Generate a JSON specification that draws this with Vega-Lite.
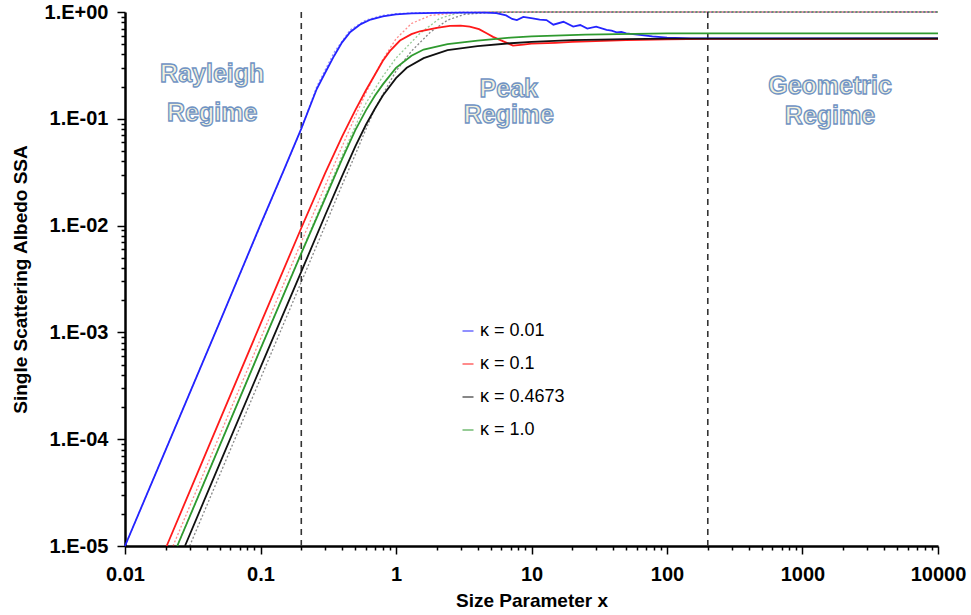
{
  "$schema": "https://vega.github.io/schema/vega-lite/v6.json",
  "width": 813,
  "height": 534,
  "autosize": {"type": "none"},
  "padding": {"left": 125, "top": 12, "right": 33, "bottom": 69},
  "background": "white",
  "config": {
    "view": {"stroke": null},
    "font": "Liberation Sans",
    "axis": {"grid": false}
  },
  "datasets": {
    "mie": [
      {"x": 0.01, "y": 0.00001, "k": "κ = 0.01"},
      {"x": 0.02, "y": 0.00008, "k": "κ = 0.01"},
      {"x": 0.05, "y": 0.00125, "k": "κ = 0.01"},
      {"x": 0.1, "y": 0.0102, "k": "κ = 0.01"},
      {"x": 0.15, "y": 0.034, "k": "κ = 0.01"},
      {"x": 0.2, "y": 0.081, "k": "κ = 0.01"},
      {"x": 0.26, "y": 0.19, "k": "κ = 0.01"},
      {"x": 0.3, "y": 0.27, "k": "κ = 0.01"},
      {"x": 0.35, "y": 0.39, "k": "κ = 0.01"},
      {"x": 0.4, "y": 0.52, "k": "κ = 0.01"},
      {"x": 0.46, "y": 0.65, "k": "κ = 0.01"},
      {"x": 0.55, "y": 0.77, "k": "κ = 0.01"},
      {"x": 0.65, "y": 0.85, "k": "κ = 0.01"},
      {"x": 0.8, "y": 0.91, "k": "κ = 0.01"},
      {"x": 1.0, "y": 0.95, "k": "κ = 0.01"},
      {"x": 1.3, "y": 0.97, "k": "κ = 0.01"},
      {"x": 2, "y": 0.98, "k": "κ = 0.01"},
      {"x": 3, "y": 0.985, "k": "κ = 0.01"},
      {"x": 4.5, "y": 0.985, "k": "κ = 0.01"},
      {"x": 5.5, "y": 0.975, "k": "κ = 0.01"},
      {"x": 6.5, "y": 0.93, "k": "κ = 0.01"},
      {"x": 7.2, "y": 0.86, "k": "κ = 0.01"},
      {"x": 7.8, "y": 0.84, "k": "κ = 0.01"},
      {"x": 8.7, "y": 0.9, "k": "κ = 0.01"},
      {"x": 10.2, "y": 0.87, "k": "κ = 0.01"},
      {"x": 11.5, "y": 0.85, "k": "κ = 0.01"},
      {"x": 12.9, "y": 0.84, "k": "κ = 0.01"},
      {"x": 14.5, "y": 0.76, "k": "κ = 0.01"},
      {"x": 17.2, "y": 0.81, "k": "κ = 0.01"},
      {"x": 20.3, "y": 0.73, "k": "κ = 0.01"},
      {"x": 22.9, "y": 0.755, "k": "κ = 0.01"},
      {"x": 25.8, "y": 0.7, "k": "κ = 0.01"},
      {"x": 30, "y": 0.73, "k": "κ = 0.01"},
      {"x": 35.8, "y": 0.68, "k": "κ = 0.01"},
      {"x": 39, "y": 0.67, "k": "κ = 0.01"},
      {"x": 42.5, "y": 0.645, "k": "κ = 0.01"},
      {"x": 46, "y": 0.65, "k": "κ = 0.01"},
      {"x": 50, "y": 0.63, "k": "κ = 0.01"},
      {"x": 63, "y": 0.61, "k": "κ = 0.01"},
      {"x": 78, "y": 0.59, "k": "κ = 0.01"},
      {"x": 100, "y": 0.575, "k": "κ = 0.01"},
      {"x": 150, "y": 0.567, "k": "κ = 0.01"},
      {"x": 200, "y": 0.565, "k": "κ = 0.01"},
      {"x": 10000, "y": 0.565, "k": "κ = 0.01"},

      {"x": 0.0203, "y": 0.00001, "k": "κ = 0.1"},
      {"x": 0.05, "y": 0.00015, "k": "κ = 0.1"},
      {"x": 0.1, "y": 0.0012, "k": "κ = 0.1"},
      {"x": 0.2, "y": 0.0095, "k": "κ = 0.1"},
      {"x": 0.3, "y": 0.031, "k": "κ = 0.1"},
      {"x": 0.4, "y": 0.068, "k": "κ = 0.1"},
      {"x": 0.5, "y": 0.12, "k": "κ = 0.1"},
      {"x": 0.6, "y": 0.185, "k": "κ = 0.1"},
      {"x": 0.7, "y": 0.26, "k": "κ = 0.1"},
      {"x": 0.8, "y": 0.35, "k": "κ = 0.1"},
      {"x": 0.9, "y": 0.43, "k": "κ = 0.1"},
      {"x": 1.07, "y": 0.54, "k": "κ = 0.1"},
      {"x": 1.3, "y": 0.62, "k": "κ = 0.1"},
      {"x": 1.5, "y": 0.66, "k": "κ = 0.1"},
      {"x": 2, "y": 0.71, "k": "κ = 0.1"},
      {"x": 2.5, "y": 0.74, "k": "κ = 0.1"},
      {"x": 3, "y": 0.745, "k": "κ = 0.1"},
      {"x": 3.5, "y": 0.73, "k": "κ = 0.1"},
      {"x": 4.1, "y": 0.69, "k": "κ = 0.1"},
      {"x": 4.7, "y": 0.63, "k": "κ = 0.1"},
      {"x": 5.2, "y": 0.585, "k": "κ = 0.1"},
      {"x": 6.2, "y": 0.53, "k": "κ = 0.1"},
      {"x": 7.3, "y": 0.485, "k": "κ = 0.1"},
      {"x": 8.7, "y": 0.495, "k": "κ = 0.1"},
      {"x": 10, "y": 0.505, "k": "κ = 0.1"},
      {"x": 15, "y": 0.515, "k": "κ = 0.1"},
      {"x": 20, "y": 0.525, "k": "κ = 0.1"},
      {"x": 50, "y": 0.545, "k": "κ = 0.1"},
      {"x": 100, "y": 0.556, "k": "κ = 0.1"},
      {"x": 200, "y": 0.56, "k": "κ = 0.1"},
      {"x": 10000, "y": 0.56, "k": "κ = 0.1"},

      {"x": 0.0277, "y": 0.00001, "k": "κ = 0.4673"},
      {"x": 0.05, "y": 0.000059, "k": "κ = 0.4673"},
      {"x": 0.1, "y": 0.00047, "k": "κ = 0.4673"},
      {"x": 0.2, "y": 0.0037, "k": "κ = 0.4673"},
      {"x": 0.3, "y": 0.0125, "k": "κ = 0.4673"},
      {"x": 0.4, "y": 0.029, "k": "κ = 0.4673"},
      {"x": 0.5, "y": 0.055, "k": "κ = 0.4673"},
      {"x": 0.6, "y": 0.088, "k": "κ = 0.4673"},
      {"x": 0.7, "y": 0.125, "k": "κ = 0.4673"},
      {"x": 0.8, "y": 0.165, "k": "κ = 0.4673"},
      {"x": 1.0, "y": 0.24, "k": "κ = 0.4673"},
      {"x": 1.2, "y": 0.3, "k": "κ = 0.4673"},
      {"x": 1.6, "y": 0.37, "k": "κ = 0.4673"},
      {"x": 2.4, "y": 0.44, "k": "κ = 0.4673"},
      {"x": 4, "y": 0.48, "k": "κ = 0.4673"},
      {"x": 7, "y": 0.51, "k": "κ = 0.4673"},
      {"x": 10, "y": 0.525, "k": "κ = 0.4673"},
      {"x": 20, "y": 0.545, "k": "κ = 0.4673"},
      {"x": 50, "y": 0.558, "k": "κ = 0.4673"},
      {"x": 100, "y": 0.563, "k": "κ = 0.4673"},
      {"x": 10000, "y": 0.565, "k": "κ = 0.4673"},

      {"x": 0.0243, "y": 0.00001, "k": "κ = 1.0"},
      {"x": 0.05, "y": 0.000087, "k": "κ = 1.0"},
      {"x": 0.1, "y": 0.0007, "k": "κ = 1.0"},
      {"x": 0.2, "y": 0.0055, "k": "κ = 1.0"},
      {"x": 0.3, "y": 0.018, "k": "κ = 1.0"},
      {"x": 0.4, "y": 0.042, "k": "κ = 1.0"},
      {"x": 0.5, "y": 0.078, "k": "κ = 1.0"},
      {"x": 0.6, "y": 0.12, "k": "κ = 1.0"},
      {"x": 0.7, "y": 0.165, "k": "κ = 1.0"},
      {"x": 0.8, "y": 0.21, "k": "κ = 1.0"},
      {"x": 1.0, "y": 0.3, "k": "κ = 1.0"},
      {"x": 1.3, "y": 0.39, "k": "κ = 1.0"},
      {"x": 1.6, "y": 0.445, "k": "κ = 1.0"},
      {"x": 2.4, "y": 0.5, "k": "κ = 1.0"},
      {"x": 4, "y": 0.54, "k": "κ = 1.0"},
      {"x": 7, "y": 0.575, "k": "κ = 1.0"},
      {"x": 10, "y": 0.59, "k": "κ = 1.0"},
      {"x": 25, "y": 0.615, "k": "κ = 1.0"},
      {"x": 100, "y": 0.63, "k": "κ = 1.0"},
      {"x": 10000, "y": 0.632, "k": "κ = 1.0"}
    ],
    "approx": [
      {"x": 0.01, "y": 0.00001, "k": "κ = 0.01"},
      {"x": 0.05, "y": 0.00125, "k": "κ = 0.01"},
      {"x": 0.1, "y": 0.01, "k": "κ = 0.01"},
      {"x": 0.2, "y": 0.08, "k": "κ = 0.01"},
      {"x": 0.26, "y": 0.2, "k": "κ = 0.01"},
      {"x": 0.35, "y": 0.42, "k": "κ = 0.01"},
      {"x": 0.46, "y": 0.68, "k": "κ = 0.01"},
      {"x": 0.6, "y": 0.84, "k": "κ = 0.01"},
      {"x": 0.8, "y": 0.93, "k": "κ = 0.01"},
      {"x": 1.0, "y": 0.965, "k": "κ = 0.01"},
      {"x": 1.5, "y": 0.985, "k": "κ = 0.01"},
      {"x": 3, "y": 0.995, "k": "κ = 0.01"},
      {"x": 10000, "y": 1.0, "k": "κ = 0.01"},

      {"x": 0.0226, "y": 0.00001, "k": "κ = 0.1"},
      {"x": 0.05, "y": 0.000109, "k": "κ = 0.1"},
      {"x": 0.1, "y": 0.00087, "k": "κ = 0.1"},
      {"x": 0.2, "y": 0.007, "k": "κ = 0.1"},
      {"x": 0.3, "y": 0.0235, "k": "κ = 0.1"},
      {"x": 0.4, "y": 0.055, "k": "κ = 0.1"},
      {"x": 0.5, "y": 0.105, "k": "κ = 0.1"},
      {"x": 0.6, "y": 0.175, "k": "κ = 0.1"},
      {"x": 0.7, "y": 0.26, "k": "κ = 0.1"},
      {"x": 0.8, "y": 0.36, "k": "κ = 0.1"},
      {"x": 1.0, "y": 0.56, "k": "κ = 0.1"},
      {"x": 1.3, "y": 0.78, "k": "κ = 0.1"},
      {"x": 1.8, "y": 0.93, "k": "κ = 0.1"},
      {"x": 3, "y": 0.99, "k": "κ = 0.1"},
      {"x": 5, "y": 1.0, "k": "κ = 0.1"},
      {"x": 10000, "y": 1.0, "k": "κ = 0.1"},

      {"x": 0.03, "y": 0.00001, "k": "κ = 0.4673"},
      {"x": 0.1, "y": 0.00037, "k": "κ = 0.4673"},
      {"x": 0.2, "y": 0.00296, "k": "κ = 0.4673"},
      {"x": 0.3, "y": 0.01, "k": "κ = 0.4673"},
      {"x": 0.4, "y": 0.024, "k": "κ = 0.4673"},
      {"x": 0.5, "y": 0.046, "k": "κ = 0.4673"},
      {"x": 0.6, "y": 0.08, "k": "κ = 0.4673"},
      {"x": 0.7, "y": 0.125, "k": "κ = 0.4673"},
      {"x": 0.8, "y": 0.17, "k": "κ = 0.4673"},
      {"x": 1.0, "y": 0.28, "k": "κ = 0.4673"},
      {"x": 1.3, "y": 0.43, "k": "κ = 0.4673"},
      {"x": 1.8, "y": 0.65, "k": "κ = 0.4673"},
      {"x": 2.4, "y": 0.84, "k": "κ = 0.4673"},
      {"x": 3.2, "y": 0.95, "k": "κ = 0.4673"},
      {"x": 5, "y": 0.99, "k": "κ = 0.4673"},
      {"x": 10, "y": 1.0, "k": "κ = 0.4673"},
      {"x": 10000, "y": 1.0, "k": "κ = 0.4673"},

      {"x": 0.0243, "y": 0.00001, "k": "κ = 1.0"},
      {"x": 0.1, "y": 0.0007, "k": "κ = 1.0"},
      {"x": 0.2, "y": 0.0056, "k": "κ = 1.0"},
      {"x": 0.3, "y": 0.019, "k": "κ = 1.0"},
      {"x": 0.4, "y": 0.045, "k": "κ = 1.0"},
      {"x": 0.5, "y": 0.085, "k": "κ = 1.0"},
      {"x": 0.6, "y": 0.14, "k": "κ = 1.0"},
      {"x": 0.8, "y": 0.25, "k": "κ = 1.0"},
      {"x": 1.0, "y": 0.37, "k": "κ = 1.0"},
      {"x": 1.5, "y": 0.63, "k": "κ = 1.0"},
      {"x": 2.1, "y": 0.87, "k": "κ = 1.0"},
      {"x": 2.8, "y": 0.97, "k": "κ = 1.0"},
      {"x": 5, "y": 1.0, "k": "κ = 1.0"},
      {"x": 10000, "y": 1.0, "k": "κ = 1.0"}
    ],
    "bounds": [{"x": 0.2}, {"x": 200}],
    "regimes": [
      {"x": 0.044, "y": 0.265, "label": "Rayleigh"},
      {"x": 0.044, "y": 0.113, "label": "Regime"},
      {"x": 6.8, "y": 0.192, "label": "Peak"},
      {"x": 6.8, "y": 0.109, "label": "Regime"},
      {"x": 1596, "y": 0.205, "label": "Geometric"},
      {"x": 1596, "y": 0.107, "label": "Regime"}
    ],
    "minory": [{"y": 0.001}]
  },
  "resolve": {"axis": {"x": "independent", "y": "independent"}},
  "layer": [
    {
      "data": {"name": "bounds"},
      "mark": {"type": "rule", "color": "#333333", "strokeWidth": 1.6, "strokeDash": [6, 5]},
      "encoding": {
        "x": {
          "field": "x", "type": "quantitative",
          "scale": {"type": "log", "domain": [0.01, 10000], "nice": false},
          "axis": {
            "orient": "bottom", "title": null, "labels": false, "domain": false,
            "values": [0.02,0.03,0.04,0.05,0.06,0.07,0.08,0.09,0.2,0.3,0.4,0.5,0.6,0.7,0.8,0.9,2,3,4,5,6,7,8,9,20,30,40,50,60,70,80,90,200,300,400,500,600,700,800,900,2000,3000,4000,5000,6000,7000,8000,9000],
            "tickColor": "black", "tickWidth": 1.5, "tickSize": 4
          }
        }
      }
    },
    {
      "data": {"name": "minory"},
      "mark": {"type": "point", "opacity": 0},
      "encoding": {
        "y": {
          "field": "y", "type": "quantitative",
          "scale": {"type": "log", "domain": [0.00001, 1], "nice": false},
          "axis": {
            "orient": "left", "title": null, "labels": false, "domain": false,
            "values": [0.00002,0.00003,0.00004,0.00005,0.00006,0.00007,0.00008,0.00009,0.0002,0.0003,0.0004,0.0005,0.0006,0.0007,0.0008,0.0009,0.002,0.003,0.004,0.005,0.006,0.007,0.008,0.009,0.02,0.03,0.04,0.05,0.06,0.07,0.08,0.09,0.2,0.3,0.4,0.5,0.6,0.7,0.8,0.9],
            "tickColor": "black", "tickWidth": 1.5, "tickSize": 4
          }
        }
      }
    },
    {
      "data": {"name": "approx"},
      "mark": {"type": "line", "strokeWidth": 1.3, "strokeDash": [2, 2], "opacity": 0.5},
      "encoding": {
        "x": {"field": "x", "type": "quantitative", "axis": null},
        "y": {"field": "y", "type": "quantitative", "axis": null},
        "color": {"field": "k", "type": "nominal"}
      }
    },
    {
      "data": {"name": "mie"},
      "mark": {"type": "line", "strokeWidth": 1.8},
      "encoding": {
        "x": {
          "field": "x", "type": "quantitative",
          "scale": {"type": "log", "domain": [0.01, 10000], "nice": false},
          "axis": {
            "orient": "bottom",
            "title": "Size Parameter x",
            "titleFontSize": 19, "titleFontWeight": "bold", "titleColor": "black", "titlePadding": 7,
            "values": [0.01, 0.1, 1, 10, 100, 1000, 10000],
            "format": "~g",
            "labelFontSize": 20, "labelFontWeight": "bold", "labelColor": "black", "labelPadding": 10,
            "labelFlush": false, "labelOverlap": false,
            "tickColor": "black", "tickWidth": 1.5, "tickSize": 8,
            "domainColor": "black", "domainWidth": 2.5
          }
        },
        "y": {
          "field": "y", "type": "quantitative",
          "scale": {"type": "log", "domain": [0.00001, 1], "nice": false},
          "axis": {
            "orient": "left",
            "title": "Single Scattering Albedo SSA",
            "titleFontSize": 19, "titleFontWeight": "bold", "titleColor": "black", "titlePadding": 14,
            "values": [0.00001, 0.0001, 0.001, 0.01, 0.1, 1],
            "labelExpr": "datum.value > 0.5 ? '1.E+00' : '1.E-0' + round(-log(datum.value)/LN10)",
            "labelFontSize": 20, "labelFontWeight": "bold", "labelColor": "black", "labelPadding": 9,
            "labelFlush": false, "labelOverlap": false,
            "tickColor": "black", "tickWidth": 1.5, "tickSize": 8,
            "domainColor": "black", "domainWidth": 2.5
          }
        },
        "color": {
          "field": "k", "type": "nominal",
          "scale": {"domain": ["κ = 0.01", "κ = 0.1", "κ = 0.4673", "κ = 1.0"], "range": ["#2424ff", "#ff1a1a", "#111111", "#2f9a2f"]},
          "legend": {
            "orient": "none", "legendX": 334, "legendY": 310, "title": null,
            "symbolType": "stroke", "symbolSize": 121, "symbolStrokeWidth": 2,
            "labelFontSize": 18, "labelFont": "Liberation Sans", "labelColor": "black",
            "rowPadding": 15, "labelOffset": 3
          }
        }
      }
    },
    {
      "data": {"name": "regimes"},
      "mark": {"type": "text", "fontSize": 25, "fontWeight": "bold", "fill": "#f3f1dc", "stroke": "#6f93c4", "strokeWidth": 1.3, "baseline": "middle", "align": "center"},
      "encoding": {
        "x": {"field": "x", "type": "quantitative", "axis": null},
        "y": {"field": "y", "type": "quantitative", "axis": null},
        "text": {"field": "label"}
      }
    }
  ]
}
